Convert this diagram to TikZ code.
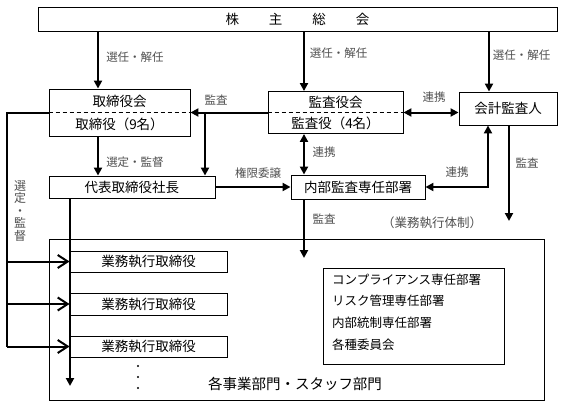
\documentclass[tikz,border=0pt]{standalone}
\usepackage{fontspec}
\setmainfont{Noto Sans CJK JP}
\usetikzlibrary{arrows.meta,calc}
\definecolor{lbl}{RGB}{80,80,80}
\begin{document}
\begin{tikzpicture}[x=1pt,y=-1pt,
  box/.style={draw, line width=0.9pt, inner sep=0pt, font=\fontsize{13.5}{16}\selectfont},
  txt/.style={inner sep=0pt, font=\fontsize{13.5}{16}\selectfont},
  ctxt/.style={inner sep=0pt, anchor=west, font=\fontsize{12.5}{15}\selectfont},
  lab/.style={text=lbl, inner sep=0pt, font=\fontsize{11.5}{13}\selectfont},
  ln/.style={line width=2pt},
  arr/.style={line width=2pt, -{Triangle[length=8pt,width=8pt]}},
  darr/.style={line width=2pt, {Triangle[length=8pt,width=8pt]}-{Triangle[length=8pt,width=8pt]}},
  barb/.style={line width=2pt, -{Straight Barb[length=10pt,width=13pt]}},
  sep/.style={dashed, dash pattern=on 4pt off 3pt, line width=0.9pt}]
\useasboundingbox (0,0) rectangle (566,407);
\fill[white] (0,0) rectangle (566,407);

% boxes
\node[box, minimum width=519pt, minimum height=24pt] (gm) at (297.5,19) {株\hspace{30pt}主\hspace{30pt}総\hspace{30pt}会};
\node[box, minimum width=141pt, minimum height=47pt] (board) at (119.5,112.5) {};
\node[txt] (boardT) at (119.5,101.5) {取締役会};
\node[txt] (boardB) at (119.5,124) {取締役（9名）};
\draw[sep] (board.west) -- (board.east);
\node[box, minimum width=135pt, minimum height=42pt] (kansa) at (335.5,112.5) {};
\node[txt] (kansaT) at (335.5,102) {監査役会};
\node[txt] (kansaB) at (335.5,123) {監査役（4名）};
\draw[sep] (kansa.west) -- (kansa.east);
\node[box, minimum width=98pt, minimum height=33pt] (auditor) at (508,108.5) {会計監査人};
\node[box, minimum width=166pt, minimum height=22pt] (ceo) at (132,187) {代表取締役社長};
\node[box, minimum width=134pt, minimum height=24pt] (internal) at (358,187) {内部監査専任部署};
\node[box, minimum width=495pt, minimum height=161pt] (exec) at (296.5,319.5) {};
\node[box, minimum width=157pt, minimum height=21pt] (ex1) at (148.5,261.5) {業務執行取締役};
\node[box, minimum width=157pt, minimum height=22pt] (ex2) at (148.5,304) {業務執行取締役};
\node[box, minimum width=157pt, minimum height=21pt] (ex3) at (148.5,346.5) {業務執行取締役};
\node[box, minimum width=181pt, minimum height=96pt] (comp) at (413.5,316) {};
\node[ctxt] (c1) at (332,280) {コンプライアンス専任部署};
\node[ctxt] (c2) at (332,301) {リスク管理専任部署};
\node[ctxt] (c3) at (332,323) {内部統制専任部署};
\node[ctxt] (c4) at (332,345) {各種委員会};
\node[inner sep=0pt, font=\fontsize{14.5}{17}\selectfont] (depts) at (295,384) {各事業部門・スタッフ部門};
\fill (138,366) circle[radius=1.2pt];
\fill (138,377) circle[radius=1.2pt];
\fill (138,388) circle[radius=1.2pt];

% helper coordinates
\coordinate (xa) at (98,0);
\coordinate (xb) at (304,0);
\coordinate (xc) at (489,0);
\coordinate (xd) at (205,0);
\coordinate (xl) at (7,0);
\coordinate (xv) at (70,0);
\coordinate (xe) at (488,0);
\coordinate (xf) at (509,0);
\coordinate (vend) at (70,386);
\coordinate (iend) at (304,258);
\coordinate (aend) at (509,221);

% connectors
\draw[arr] (xa |- gm.south) -- (xa |- board.north);
\draw[arr] (xb |- gm.south) -- (xb |- kansa.north);
\draw[arr] (xc |- gm.south) -- (xc |- auditor.north);
\draw[arr] (kansa.west) -- (board.east);
\draw[arr] (xd |- board.east) -- (xd |- ceo.north);
\draw[darr] (kansa.east) -- (kansa.east -| auditor.west);
\draw[arr] (xa |- board.south) -- (xa |- ceo.north);
\draw[ln] (board.west) -| (xl |- ex3.west);
\draw[barb] (xl |- ex1.west) -- (ex1.west);
\draw[barb] (xl |- ex2.west) -- (ex2.west);
\draw[barb] (xl |- ex3.west) -- (ex3.west);
\draw[arr] (xv |- ceo.south) -- (vend);
\draw[arr] (ceo.east) -- (internal.west);
\draw[darr] (xb |- kansa.south) -- (xb |- internal.north);
\draw[arr] (xb |- internal.south) -- (iend);
\draw[darr] (xe |- auditor.south) |- (internal.east);
\draw[arr] (xf |- auditor.south) -- (aend);

% labels
\node[lab] (l1) at (135,57) {選任・解任};
\node[lab] (l2) at (338.5,53) {選任・解任};
\node[lab] (l3) at (521.5,55) {選任・解任};
\node[lab] (l4) at (216,100) {監査};
\node[lab] (l5) at (434,97) {連携};
\node[lab] (l6) at (135,162) {選定・監督};
\node[lab] (l7) at (258,173) {権限委譲};
\node[lab] (l8) at (324,152) {連携};
\node[lab] (l9) at (324,219) {監査};
\node[lab] (l10) at (457,172) {連携};
\node[lab] (l11) at (527,163) {監査};
\node[lab, font=\fontsize{12.5}{15}\selectfont] (l12) at (432,223) {（業務執行体制）};
\node[lab, align=center, font=\fontsize{12}{12.5}\selectfont] (l13) at (20,211) {選\\定\\・\\監\\督};
\end{tikzpicture}
\end{document}
